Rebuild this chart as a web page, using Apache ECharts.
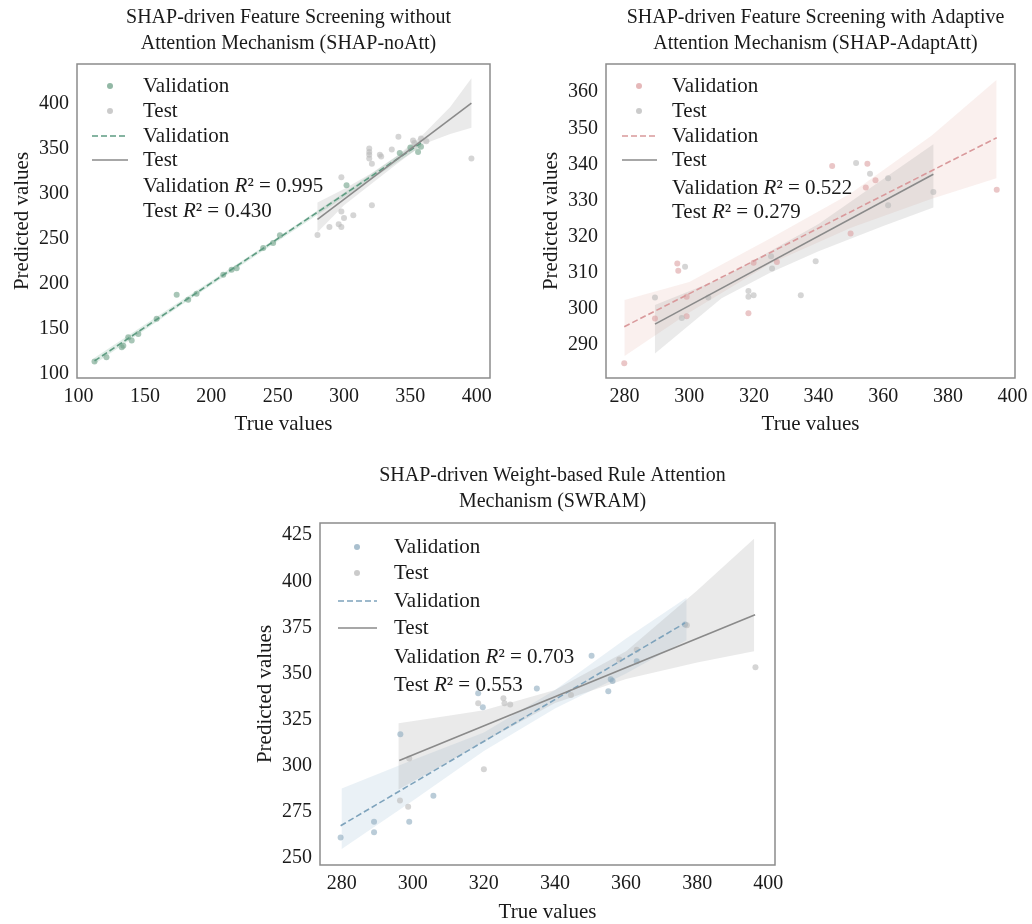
<!DOCTYPE html>
<html>
<head>
<meta charset="utf-8">
<script src="https://cdn.jsdelivr.net/npm/echarts@6/dist/echarts.min.js"></script>
<style>
html,body{margin:0;padding:0;background:#fff;}
#chart{width:1032px;height:924px;}
</style>
</head>
<body>
<div id="chart"></div>
<script>
// ---------------- DATA ----------------
// Panel 1: SHAP-noAtt
const p1ValX  = [112,121,132.5,133.7,137.4,140,145,158.8,173.9,182.6,188.9,209,215.3,219.1,239.1,246.6,251.7,301.9,342,350,355.8,358];
const p1ValY  = [113.7,118.5,129.6,131.4,140.7,137,144.4,161.1,187.8,182.2,188.9,210,215.6,217.3,239.6,245.1,253.7,309.2,345,351,346.2,352];
const p1TestX = [280,289,296,298,298,300,307,298,321,319,319,319,319,321,327,328,336,341,352,353,396,358,362];
const p1TestY = [254,263,266,263,280,273,276,318,287,350,346,343,339,333,343,341,349,363,359,356,339,361,358];
const p1ValFitX  = [112,358];
const p1ValFitY  = [114.4,356];
const p1TestFitX = [280,396];
const p1TestFitY = [271.5,400.2];
const p1ValBandX  = [112,180,240,300,358];
const p1ValBandLo = [111,179,237.5,296,352];
const p1ValBandHi = [118,184,242,301,360];
const p1TestBandX  = [280,300,320,340,360,380,396];
const p1TestBandLo = [257,287,310,333,355,366,373];
const p1TestBandHi = [290,305,322,342,366,396,428];
const p1XTicks = [100,150,200,250,300,350,400];
const p1YTicks = [100,150,200,250,300,350,400];

// Panel 2: SHAP-AdaptAtt
const p2ValX  = [279.9,289.4,299.2,299.2,296.3,296.6,318.3,319.9,327.1,349.9,344.2,355.1,354.6,357.6,395.1];
const p2ValY  = [285,297.4,298,303.4,312.6,310.6,298.8,312.8,313,320.9,339.6,340.2,333.6,335.6,333];
const p2TestX = [289.4,298.7,297.7,305.9,318.3,318.3,319.9,325.3,325.6,334.5,339.1,351.6,355.9,361.5,361.5,375.5];
const p2TestY = [303.2,311.7,297.5,303.2,305,303.4,303.8,314.6,311.2,303.8,313.2,340.4,337.4,336.2,328.7,332.4];
const p2ValFitX  = [279.9,395.1];
const p2ValFitY  = [295.1,347.4];
const p2TestFitX = [289.4,375.5];
const p2TestFitY = [295.8,337.3];
const p2ValBandX  = [280,300,325,350,375,395];
const p2ValBandLo = [287,299,312.5,322.5,330.5,336.2];
const p2ValBandHi = [302.5,307.5,319.5,332,348,363.4];
const p2TestBandX  = [289.4,310,325,340,360,375.5];
const p2TestBandLo = [287.7,303,310,316,323,328.1];
const p2TestBandHi = [301.1,308.5,316,323.5,336,345.6];
const p2XTicks = [280,300,320,340,360,380,400];
const p2YTicks = [290,300,310,320,330,340,350,360];

// Panel 3: SWRAM
const p3ValX  = [279.7,289.1,289.1,299,305.8,296.5,318.4,319.7,334.9,350.3,355,355.7,356.2,363,376.6];
const p3ValY  = [261,269.5,263.9,269.5,283.7,317,339.2,331.7,341.8,359.6,340.4,346.8,345.9,356.6,376.5];
const p3TestX = [296.4,298.7,299,318.4,320,325.5,325.8,327.4,344.5,358.1,363,377.1,396.4];
const p3TestY = [281.1,277.7,303.8,333.8,298,336.5,333.8,333.2,338.3,357.5,362.8,376.1,353.4];
const p3ValFitX  = [279.7,376.6];
const p3ValFitY  = [267.4,377.4];
const p3TestFitX = [296.2,396.3];
const p3TestFitY = [302.8,381.8];
const p3ValBandX  = [280,300,320,340,360,377];
const p3ValBandLo = [254.8,281,308,331,350,368];
const p3ValBandHi = [287.6,303,318,341,369,391];
const p3TestBandX  = [296,310,320,340,360,380,396];
const p3TestBandLo = [287,302,313,334,347,356,362];
const p3TestBandHi = [323,327,330,341,362,395,423];
const p3XTicks = [280,300,320,340,360,380,400];
const p3YTicks = [250,275,300,325,350,375,400,425];

const titles = [
  'SHAP-driven Feature Screening without\nAttention Mechanism (SHAP-noAtt)',
  'SHAP-driven Feature Screening with Adaptive\nAttention Mechanism (SHAP-AdaptAtt)',
  'SHAP-driven Weight-based Rule Attention\nMechanism (SWRAM)'
];
const r2Val  = ['0.995','0.522','0.703'];
const r2Test = ['0.430','0.279','0.553'];

// ---------------- STYLE / LAYOUT ----------------
const FONT = '"Liberation Serif", "Times New Roman", serif';
const GREY_PT = 'rgba(185,185,185,0.75)';
const GREY_LINE = '#8a8a8a';
const GREY_BAND = 'rgba(150,150,150,0.2)';
const panels = [
  {grid:{left:77,top:64,width:413,height:314}, x:[98.8,410], y:[95.5,443.7],
   valX:p1ValX,valY:p1ValY,testX:p1TestX,testY:p1TestY,
   vfx:p1ValFitX,vfy:p1ValFitY,tfx:p1TestFitX,tfy:p1TestFitY,
   vbx:p1ValBandX,vbl:p1ValBandLo,vbh:p1ValBandHi,tbx:p1TestBandX,tbl:p1TestBandLo,tbh:p1TestBandHi,
   xt:p1XTicks,yt:p1YTicks, titleTop:0, xGap:36,
   valPt:'rgba(110,160,135,0.75)', valLine:'#5e9c82', valBand:'rgba(100,165,135,0.2)',
   leg:{mx:110, lx1:92, lx2:128, tx:143, ys:[86,111,136,160,186,211]}},
  {grid:{left:606,top:64,width:409,height:314}, x:[274.25,400.75], y:[280.9,367.8],
   valX:p2ValX,valY:p2ValY,testX:p2TestX,testY:p2TestY,
   vfx:p2ValFitX,vfy:p2ValFitY,tfx:p2TestFitX,tfy:p2TestFitY,
   vbx:p2ValBandX,vbl:p2ValBandLo,vbh:p2ValBandHi,tbx:p2TestBandX,tbl:p2TestBandLo,tbh:p2TestBandHi,
   xt:p2XTicks,yt:p2YTicks, titleTop:0, xGap:36,
   valPt:'rgba(220,160,162,0.75)', valLine:'#d9999b', valBand:'rgba(225,170,160,0.18)',
   leg:{mx:639, lx1:622, lx2:657, tx:672, ys:[86,111,136,160,188,212]}},
  {grid:{left:320,top:523,width:455,height:348}, x:[273.9,401.9], y:[246.1,431.6],
   valX:p3ValX,valY:p3ValY,testX:p3TestX,testY:p3TestY,
   vfx:p3ValFitX,vfy:p3ValFitY,tfx:p3TestFitX,tfy:p3TestFitY,
   vbx:p3ValBandX,vbl:p3ValBandLo,vbh:p3ValBandHi,tbx:p3TestBandX,tbl:p3TestBandLo,tbh:p3TestBandHi,
   xt:p3XTicks,yt:p3YTicks, titleTop:458, xGap:37,
   valPt:'rgba(140,170,190,0.75)', valLine:'#7ea3bc', valBand:'rgba(160,190,215,0.22)',
   leg:{mx:357, lx1:338, lx2:377, tx:394, ys:[547,573,601,628,657,685]}}
];

const zip = (a,b) => a.map((v,i)=>[v,b[i]]);

function bandSeries(i, bx, lo, hi, color){
  return {
    type:'custom', xAxisIndex:i, yAxisIndex:i, silent:true, z:1,
    data: bx.map((x,k)=>[x, lo[k], hi[k]]),
    encode:{x:0, y:[1,2]},
    renderItem:function(params, api){
      if (params.dataIndex !== 0) return null;
      const pts = [];
      for (let k=0;k<bx.length;k++) pts.push(api.coord([bx[k], hi[k]]));
      for (let k=bx.length-1;k>=0;k--) pts.push(api.coord([bx[k], lo[k]]));
      return {type:'polygon', shape:{points:pts}, style:{fill:color}};
    }
  };
}

const grids=[], xAxes=[], yAxes=[], series=[], graphics=[], titleOpts=[];
panels.forEach((p,i)=>{
  grids.push(Object.assign({show:true, borderColor:'#8c8c8c', borderWidth:1.5, backgroundColor:'#fff'}, p.grid));
  const lab = {fontFamily:FONT, fontSize:20, color:'#1a1a1a'};
  xAxes.push({type:'value', gridIndex:i, min:p.x[0], max:p.x[1],
    axisLine:{show:false}, axisTick:{show:false}, splitLine:{show:false},
    axisLabel:Object.assign({customValues:p.xt, margin:9}, lab),
    name:'True values', nameLocation:'middle', nameGap:p.xGap,
    nameTextStyle:{fontFamily:FONT, fontSize:21, color:'#1a1a1a'}});
  yAxes.push({type:'value', gridIndex:i, min:p.y[0], max:p.y[1],
    axisLine:{show:false}, axisTick:{show:false}, splitLine:{show:false},
    axisLabel:Object.assign({customValues:p.yt, margin:8}, lab),
    name:'Predicted values', nameLocation:'middle', nameGap:44,
    nameTextStyle:{fontFamily:FONT, fontSize:21, color:'#1a1a1a'}});
  series.push(bandSeries(i, p.vbx, p.vbl, p.vbh, p.valBand));
  series.push(bandSeries(i, p.tbx, p.tbl, p.tbh, GREY_BAND));
  series.push({type:'scatter', xAxisIndex:i, yAxisIndex:i, data:zip(p.valX,p.valY),
    symbolSize:6, itemStyle:{color:p.valPt}, z:2, silent:true});
  series.push({type:'scatter', xAxisIndex:i, yAxisIndex:i, data:zip(p.testX,p.testY),
    symbolSize:6, itemStyle:{color:GREY_PT}, z:2, silent:true});
  series.push({type:'line', xAxisIndex:i, yAxisIndex:i, data:zip(p.vfx,p.vfy),
    showSymbol:false, lineStyle:{color:p.valLine, width:1.6, type:[6,3]}, z:3, silent:true});
  series.push({type:'line', xAxisIndex:i, yAxisIndex:i, data:zip(p.tfx,p.tfy),
    showSymbol:false, lineStyle:{color:GREY_LINE, width:1.6}, z:3, silent:true});

  const cx = p.grid.left + p.grid.width/2;
  titleOpts.push({text:titles[i], left:cx, top:p.titleTop, textAlign:'center',
    textStyle:{fontFamily:FONT, fontSize:20, fontWeight:'normal', color:'#1a1a1a', lineHeight:26}});

  const L = p.leg;
  const tstyle = (txt,y)=>({type:'text', z:10, style:{text:txt, x:L.tx, y:y, fontFamily:FONT, fontSize:21,
    fill:'#1a1a1a', verticalAlign:'middle'}});
  graphics.push({type:'circle', z:10, shape:{cx:L.mx, cy:L.ys[0], r:3}, style:{fill:p.valPt}});
  graphics.push(tstyle('Validation', L.ys[0]));
  graphics.push({type:'circle', z:10, shape:{cx:L.mx, cy:L.ys[1], r:3}, style:{fill:GREY_PT}});
  graphics.push(tstyle('Test', L.ys[1]));
  graphics.push({type:'line', z:10, shape:{x1:L.lx1, y1:L.ys[2], x2:L.lx2, y2:L.ys[2]},
    style:{stroke:p.valLine, lineWidth:1.6, lineDash:[6,3]}});
  graphics.push(tstyle('Validation', L.ys[2]));
  graphics.push({type:'line', z:10, shape:{x1:L.lx1, y1:L.ys[3], x2:L.lx2, y2:L.ys[3]},
    style:{stroke:GREY_LINE, lineWidth:1.6}});
  graphics.push(tstyle('Test', L.ys[3]));
  const rich = {n:{fontFamily:FONT, fontSize:21, fill:'#1a1a1a', color:'#1a1a1a'},
                it:{fontFamily:FONT, fontSize:21, fontStyle:'italic', fill:'#1a1a1a', color:'#1a1a1a'}};
  graphics.push({type:'text', z:10, style:{text:'{n|Validation }{it|R}{n|² = '+r2Val[i]+'}', rich:rich,
    x:L.tx, y:L.ys[4], verticalAlign:'middle', fontFamily:FONT, fontSize:21}});
  graphics.push({type:'text', z:10, style:{text:'{n|Test }{it|R}{n|² = '+r2Test[i]+'}', rich:rich,
    x:L.tx, y:L.ys[5], verticalAlign:'middle', fontFamily:FONT, fontSize:21}});
});

const chart = echarts.init(document.getElementById('chart'), null, {renderer:'canvas'});
chart.setOption({
  backgroundColor:'#fff',
  animation:false,
  title:titleOpts,
  grid:grids, xAxis:xAxes, yAxis:yAxes, series:series, graphic:graphics
});
</script>
</body>
</html>
